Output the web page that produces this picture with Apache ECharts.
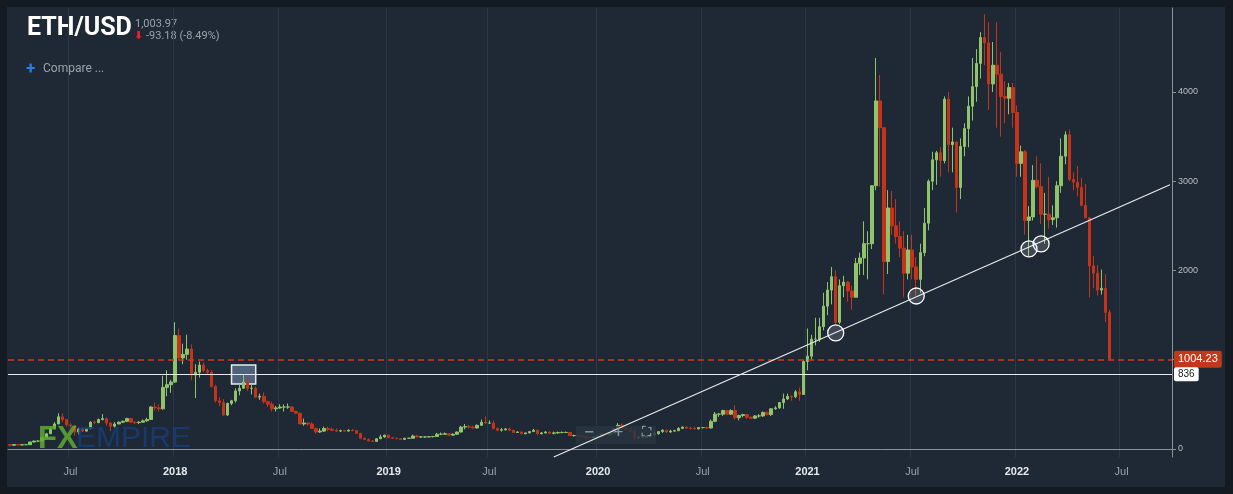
<!DOCTYPE html>
<html>
<head>
<meta charset="utf-8">
<script src="https://cdn.jsdelivr.net/npm/echarts@6/dist/echarts.min.js"></script>
<style>
html,body{margin:0;padding:0;background:#131a21;}
#main{width:1233px;height:494px;}
</style>
</head>
<body>
<div id="main"></div>
<script>
// weekly candles, first week 2017-03-20
var startDate = new Date(Date.UTC(2017, 2, 20));
var totalWeeks = 289;
var firstOpen = 50;

var closes = [
	42,50,44,48,48,78,88,88,125,170,230,280,360,330,270,262,190,225,200,230,300,295,330,340,290,255,280,300,310,340,300,295,300,315,330,470,460,450,690,720,750,
	1270,1020,1060,1120,830,860,940,880,860,700,540,520,380,510,540,650,680,750,680,680,580,590,530,500,450,460,470,470,470,420,400,280,290,280,230,190,200,230,220,210,200,205,200,210,205,175,120,105,90,85,115,135,155,
	125,120,115,107,120,120,145,135,135,135,138,140,165,165,170,155,165,190,245,250,245,235,265,300,290,290,230,210,215,225,210,185,190,170,180,195,210,170,180,190,175,180,185,185,185,150,150,145,135,130,128,135,
	145,165,160,180,225,265,225,220,200,125,130,130,145,160,170,195,210,190,200,205,230,245,235,230,225,240,240,235,310,390,390,430,390,430,350,375,385,355,345,370,370,410,385,450,460,520,560,590,585,640,610,980,
	1040,1230,1230,1370,1600,1780,1930,1420,1830,1870,1770,1700,2080,2140,2300,2300,2950,3900,3600,2100,2700,2500,2380,2250,1970,2230,2040,1900,2200,2530,3000,3240,3320,3230,3920,3410,3440,2930,3390,3590,3840,4060,4320,4610,4550,4090,4300,4200,3950,3930,4050,3770,
	3200,3330,2560,2600,3010,2940,2630,2630,2570,2590,2950,3280,3520,3020,2990,2930,2730,2590,2050,1970,1780,1800,1530,1004
];
var highs = [
	50,52,52,52,52,80,95,95,130,180,240,300,400,400,330,290,270,240,240,230,310,320,340,390,350,300,300,310,320,350,345,310,310,330,350,480,520,500,820,880,775,
	1420,1350,1180,1280,1170,950,980,970,900,880,720,580,560,520,550,680,720,830,800,720,700,620,630,540,530,480,500,500,510,480,430,410,340,300,300,240,230,250,250,240,230,215,210,220,225,210,180,130,120,100,120,160,160,
	160,132,125,120,125,125,160,160,145,140,145,145,180,185,185,175,175,195,260,280,270,260,275,330,365,320,320,240,235,230,240,215,200,195,185,200,225,215,190,200,195,195,195,195,195,190,160,155,150,140,135,140,
	150,170,175,185,230,290,285,240,250,205,145,145,160,175,195,200,220,215,215,215,245,250,250,250,250,245,245,250,330,415,400,440,440,445,490,385,395,390,365,380,390,420,420,455,480,525,620,620,600,660,690,1000,
	1350,1280,1470,1470,1750,1870,2040,2000,1900,1940,1880,1830,2140,2200,2550,2440,2950,4380,4190,3600,2900,2890,2800,2550,2440,2400,2400,2150,2300,2700,3020,3330,3340,3380,3950,4000,3600,3380,3480,3650,3950,4380,4480,4670,4870,4780,4560,4780,4450,4120,4100,4100,
	3850,3400,3350,2720,3180,3280,3200,2870,3050,2730,3000,3480,3560,3580,3100,3170,3040,2970,2600,2160,2060,2010,1960,1560
];
var lows = [
	28,38,40,43,44,48,75,80,88,125,170,220,280,300,250,240,150,160,190,195,220,280,290,320,260,200,240,280,290,300,290,280,280,300,305,330,430,420,440,590,630,
	740,1000,950,1000,770,570,800,860,840,690,520,480,370,370,490,520,600,680,650,610,570,550,510,470,420,420,450,420,450,420,390,280,260,260,230,170,180,190,200,200,190,190,195,195,200,170,110,100,85,80,85,110,125,
	120,115,110,100,102,115,118,130,125,125,130,130,138,155,160,150,150,160,185,220,230,230,230,260,280,280,220,200,195,205,200,180,180,165,165,175,190,160,165,175,170,165,170,175,180,145,140,140,130,115,125,125,
	125,140,155,155,175,220,225,210,190,90,110,120,125,150,150,160,180,180,180,195,200,230,225,215,220,220,230,225,230,300,360,370,380,380,330,320,355,335,335,340,350,360,375,370,440,450,450,550,540,570,540,610,
	880,1000,1160,1200,1330,1500,1620,1400,1400,1700,1650,1560,1700,1950,1950,1900,2240,2900,2940,1730,1960,2400,2300,2150,1700,1900,1900,1720,1750,2160,2450,2900,2960,3050,3200,3100,3100,2650,2800,3280,3380,3680,3890,4150,4300,3800,4000,3600,3500,3650,3750,3600,
	3050,3050,2400,2160,2560,2920,2520,2300,2470,2510,2480,2870,3190,3000,2900,2830,2720,2730,1700,1800,1720,1730,1420,1000
];
var yTicks = [0, 1000, 2000, 3000, 4000];
var lastPrice = 1004.23;
var supportLevel = 836;
var trendStart = [135, -90];
var trendEnd = [288, 2960];
var touchPoints = [[204.5, 1300], [225.3, 1714], [252.6, 2241], [256.3, 2297]];
var boxArea = [[55, 941], [61, 728]];

var dates = [];
for (var i = 0; i < totalWeeks; i++) {
	dates.push(new Date(startDate.getTime() + i * 7 * 86400000));
}
var cats = dates.map(function (d) { return d.toISOString().slice(0, 10); });

var candles = [];
for (var k = 0; k < closes.length; k++) {
	var o = k === 0 ? firstOpen : closes[k - 1];
	candles.push([o, closes[k], lows[k], highs[k]]);
}

function isMark(idx) {
	var d = dates[idx];
	return (d.getUTCMonth() === 0 || d.getUTCMonth() === 6) && d.getUTCDate() <= 7;
}

var chart = echarts.init(document.getElementById('main'));
chart.setOption({
	animation: false,
	backgroundColor: '#131a21',
	graphic: [
		{ type: 'rect', z: -10, shape: { x: 7, y: 7, width: 1218, height: 480 }, style: { fill: '#1e2935' } },
		{ type: 'text', left: 27, top: 16, style: { text: 'ETH/USD', fill: '#fff', font: 'bold 25px Roboto' } },
		{ type: 'text', left: 135, top: 19, style: { text: '1,003.97', fill: '#9aa3ab', font: '11px Roboto' } },
		{ type: 'text', left: 134, top: 31, style: { text: '\u2B07', fill: '#e8202a', font: 'bold 11px "DejaVu Sans"' } },
		{ type: 'text', left: 146, top: 31, style: { text: '-93.18 (-8.49%)', fill: '#9aa3ab', font: '11px Roboto' } },
		{ type: 'text', left: 26, top: 61, style: { text: '+', fill: '#2f7de1', font: 'bold 17px Roboto' } },
		{ type: 'text', left: 43, top: 63, style: { text: 'Compare ...', fill: '#9aa3ab', font: '12px Roboto' } },
		{ type: 'text', left: 38, top: 424, z: 5, style: { text: 'FX', fill: 'rgba(95,170,50,0.85)', font: 'bold 31px "Liberation Sans"' } },
		{ type: 'text', left: 76, top: 424, z: 5, style: { text: 'EMPIRE', fill: 'rgba(25,60,120,0.85)', font: '30px "Liberation Sans"' } },
		{ type: 'rect', z: 5, shape: { x: 576, y: 426, width: 80, height: 18 }, style: { fill: 'rgba(40,52,64,0.8)' } },
		{ type: 'text', left: 584, top: 426, z: 6, style: { text: '\u2212    +    \u26F6', fill: '#8a939b', font: 'bold 13px "DejaVu Sans"' } }
	],
	grid: { left: 8, right: 61, top: 8, bottom: 37 },
	xAxis: {
		type: 'category',
		data: cats,
		axisLine: { lineStyle: { color: '#8a929a' } },
		axisTick: { interval: function (i) { return isMark(i); }, alignWithLabel: true, lineStyle: { color: '#8a929a' }, length: 5 },
		splitLine: { show: true, interval: function (i) { return isMark(i); }, lineStyle: { color: '#2b3845' } },
		axisLabel: {
			interval: function (i) { return isMark(i); },
			color: '#9aa3ab', fontSize: 11, margin: 9,
			formatter: function (v) {
				var d = new Date(v + 'T00:00:00Z');
				return d.getUTCMonth() === 0 ? '{y|' + d.getUTCFullYear() + '}' : 'Jul';
			},
			rich: { y: { color: '#e6e9ec', fontWeight: 'bold', fontSize: 11 } }
		}
	},
	yAxis: {
		type: 'value',
		position: 'right',
		min: -90,
		max: 4941,
		axisLine: { show: true, lineStyle: { color: '#8a929a' } },
		axisTick: { show: true, customValues: yTicks, length: 4, lineStyle: { color: '#8a929a' } },
		axisLabel: { customValues: yTicks, color: '#b8bec4', fontSize: 9, margin: 6, formatter: function (v) { return String(v); } },
		splitLine: { show: false }
	},
	series: [{
		type: 'candlestick',
		data: candles,
		barWidth: 3,
		itemStyle: {
			color: '#8fc46c', color0: '#c5331b',
			borderColor: '#8fc46c', borderColor0: '#c5331b', borderWidth: 1
		},
		markPoint: {
			symbol: 'circle',
			symbolSize: 16,
			silent: true,
			label: { show: false },
			itemStyle: { color: 'rgba(255,255,255,0.15)', borderColor: '#fff', borderWidth: 1.3 },
			data: touchPoints.map(function (p) { return { coord: p }; })
		},
		markArea: {
			silent: true,
			itemStyle: { color: 'rgba(150,185,230,0.4)', borderColor: '#e8eaec', borderWidth: 1.5 },
			data: [[{ xAxis: boxArea[0][0], yAxis: boxArea[0][1] }, { xAxis: boxArea[1][0], yAxis: boxArea[1][1] }]]
		}
	}, {
		type: 'line',
		data: [],
		markLine: {
			symbol: 'none',
			silent: true,
			lineStyle: { color: '#d23a1c', type: [6, 4], width: 1.5, opacity: 1 },
			label: { position: 'end', distance: 2, formatter: '1004.23', color: '#fff', fontSize: 11, backgroundColor: '#c0391b', padding: [3, 4], borderRadius: 2 },
			data: [{ yAxis: lastPrice }]
		}
	}, {
		type: 'line',
		data: [],
		markLine: {
			symbol: 'none',
			silent: true,
			lineStyle: { color: '#e8eaec', type: 'solid', width: 1.2, opacity: 1 },
			label: { position: 'end', distance: 2, formatter: '836', color: '#222', fontSize: 10, backgroundColor: '#fff', padding: [2, 4], borderRadius: 2 },
			data: [
				{ yAxis: supportLevel },
				[{ coord: trendStart, label: { show: false } }, { coord: trendEnd }]
			]
		}
	}]
});
</script>
</body>
</html>
